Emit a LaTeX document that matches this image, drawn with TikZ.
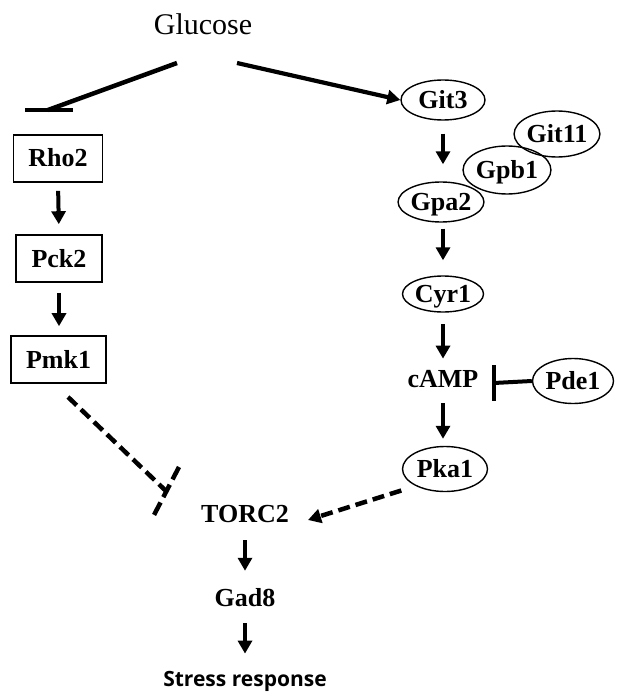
\documentclass[tikz,border=0pt]{standalone}
\usepackage{fontspec}
\setmainfont{Liberation Serif}
\newfontfamily\stressfont{Open Sans}
\usetikzlibrary{arrows.meta,shapes.geometric}

\begin{document}
\begin{tikzpicture}[x=1pt,y=-1pt,
  lbl/.style={font=\fontsize{26}{30}\selectfont\bfseries, inner sep=0pt},
  boxnode/.style={lbl, draw, line width=1.6pt, minimum height=47pt, text height=17pt, text depth=0pt},
  ovalnode/.style={lbl, draw, ellipse, line width=1.4pt, inner sep=0pt, text height=17pt, text depth=0pt},
  arr/.style={line width=4pt, -{Triangle[length=13pt,width=14pt]}},
  inh/.style={line width=4.5pt},
  dsh/.style={line width=4.5pt, dash pattern=on 12pt off 6pt},
  dsharr/.style={dsh, -{Triangle[length=13pt,width=14pt]}},
]
\useasboundingbox (0,0) rectangle (616,692);

% --- top ---
\node[font=\fontsize{30}{34}\selectfont, inner sep=0pt, anchor=base] (glucose) at (203,35) {Glucose};

% --- left branch (boxes) ---
\node[boxnode, minimum width=89pt] (rho2) at (58,158.5) {Rho2};
\node[boxnode, minimum width=86pt] (pck2) at (59,258.5) {Pck2};
\node[boxnode, minimum width=95pt] (pmk1) at (58.5,359.5) {Pmk1};

% --- right branch (ovals) ---
\node[ovalnode, minimum width=84pt, minimum height=40pt] (git3) at (443,100) {Git3};
\node[ovalnode, minimum width=84pt, minimum height=46pt] (git11) at (557,134) {Git11};
\node[ovalnode, minimum width=83pt, minimum height=48pt] (gpb1) at (507,170) {Gpb1};
\node[ovalnode, minimum width=84pt, minimum height=40pt, fill=white] (gpa2) at (441,202) {Gpa2};
\node[ovalnode, minimum width=81pt, minimum height=36pt] (cyr1) at (443,294) {Cyr1};
\node[lbl, anchor=base] (camp) at (443,387) {cAMP};
\node[ovalnode, minimum width=81pt, minimum height=45pt] (pde1) at (573,381) {Pde1};
\node[ovalnode, minimum width=85pt, minimum height=45pt] (pka1) at (445,469) {Pka1};

% --- bottom ---
\node[lbl, anchor=base] (torc2) at (245,522) {TORC2};
\node[lbl, anchor=base] (gad8) at (245,606) {Gad8};
\node[font=\stressfont\bfseries\fontsize{21}{25}\selectfont, inner sep=0pt, anchor=base] (stress) at (245,686) {Stress response};

% --- free ends of the inhibition and activation lines ---
\coordinate (gluL) at (177,63);
\coordinate (gluR) at (237,63);
\coordinate (rhoBar) at (48,110);
\coordinate (rhoBarL) at (25,110);
\coordinate (rhoBarR) at (73,110);
\coordinate (campBar) at (494,383);
\coordinate (campBarT) at (494,365);
\coordinate (campBarB) at (494,401);
\coordinate (pmkOut) at (68,397);
\coordinate (torcBar) at (166,491);
\coordinate (torcBarT) at (179,467);
\coordinate (torcBarB) at (154,515);
\coordinate (torcIn) at (308,520);

% Glucose inhibits Rho2, activates Git3
\draw[inh] (gluL) -- (rhoBar);
\draw[inh] (rhoBarL) -- (rhoBarR);
\draw[arr, line width=4.2pt] (gluR) -- (git3.west);

% cell-integrity branch
\draw[arr, shorten <=8pt, shorten >=10pt] (rho2.south) -- (pck2.north);
\draw[arr, shorten <=10pt, shorten >=9pt] (pck2.south) -- (pck2.south |- pmk1.north);

% cAMP branch
\draw[arr, shorten <=13pt, shorten >=17pt] (git3.south) -- (git3.south |- gpa2.north);
\draw[arr, shorten <=6pt, shorten >=15pt] (gpa2.south -| cyr1.north) -- (cyr1.north);
\draw[arr, shorten <=11.5pt, shorten >=11pt] (cyr1.south) -- (cyr1.south |- camp.north);
\draw[arr, shorten <=16pt, shorten >=7pt] (camp.south) -- (camp.south |- pka1.north);

% Pde1 inhibits cAMP
\draw[inh, line width=4pt] (pde1.west) -- (campBar);
\draw[inh] (campBarT) -- (campBarB);

% Pmk1 inhibits TORC2 (dashed)
\draw[dsh] (pmkOut) -- (torcBar);
\draw[dsh, dash pattern=on 14pt off 6pt] (torcBarT) -- (torcBarB);

% Pka1 activates TORC2 (dashed)
\draw[dsharr, shorten <=15pt] (pka1.210) -- (torcIn);

% TORC2 -> Gad8 -> stress response
\draw[arr, shorten <=18pt, shorten >=17pt] (torc2.south) -- (gad8.north);
\draw[arr, shorten <=17pt, shorten >=17pt] (gad8.south) -- (stress.north);
\end{tikzpicture}
\end{document}
